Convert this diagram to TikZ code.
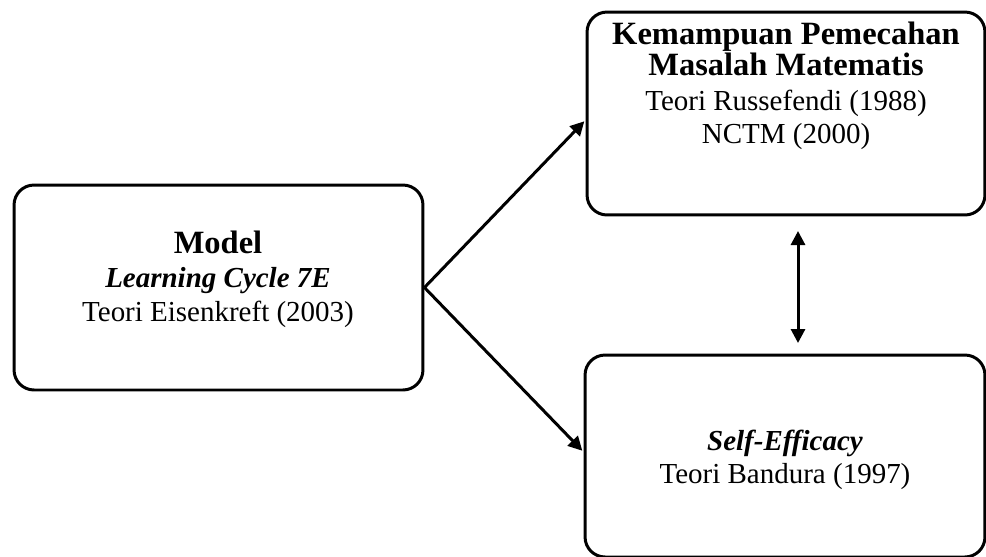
\documentclass[tikz,border=0pt]{standalone}
\usepackage{fontspec}
\setmainfont{Liberation Serif}
\usetikzlibrary{arrows.meta}
\begin{document}
\begin{tikzpicture}[x=0.02cm, y=-0.02cm, line width=1.7pt,
    every node/.style={font=\fontsize{16.5}{20}\selectfont, anchor=base, inner sep=0pt},
    big/.style={font=\fontsize{18.5}{20}\selectfont\bfseries},
    box/.style={draw, rounded corners=0.4cm, inner sep=0pt, anchor=center},
    arr/.style={-{Triangle[length=0.28cm,width=0.28cm]}, shorten >=1pt}]
  \useasboundingbox (0,0) rectangle (986,556);
  % boxes
  \node[box, minimum width=8.18cm, minimum height=4.1cm] (lbox) at (218.5,287.5) {};
  \node[box, minimum width=7.96cm, minimum height=4.06cm] (tbox) at (786,113.5) {};
  \node[box, minimum width=8cm, minimum height=4.04cm] (bbox) at (785,456) {};
  % texts
  \node[big] (lhead) at (218,253) {Model};
  \node (lsub) at (218,287) {\textbf{\textit{Learning Cycle 7E}}};
  \node (lref) at (218,321) {Teori Eisenkreft (2003)};
  \node[big] (thead) at (786,44) {Kemampuan Pemecahan};
  \node[big] (thead2) at (786,75) {Masalah Matematis};
  \node (tref) at (786,110) {Teori Russefendi (1988)};
  \node (tref2) at (786,143) {NCTM (2000)};
  \node (bhead) at (785,450) {\textbf{\textit{Self-Efficacy}}};
  \node (bref) at (785,483) {Teori Bandura (1997)};
  % connectors
  \coordinate (up) at (798,231);
  \coordinate (dn) at (798,343);
  \draw[arr] (lbox.east) -- ([yshift=-0.13cm]tbox.west);
  \draw[arr] (lbox.east) -- ([yshift=0.08cm]bbox.west);
  \draw[arr, {Triangle[length=0.28cm,width=0.28cm]}-{Triangle[length=0.28cm,width=0.28cm]}, shorten >=0pt] (up) -- (dn);
\end{tikzpicture}
\end{document}
